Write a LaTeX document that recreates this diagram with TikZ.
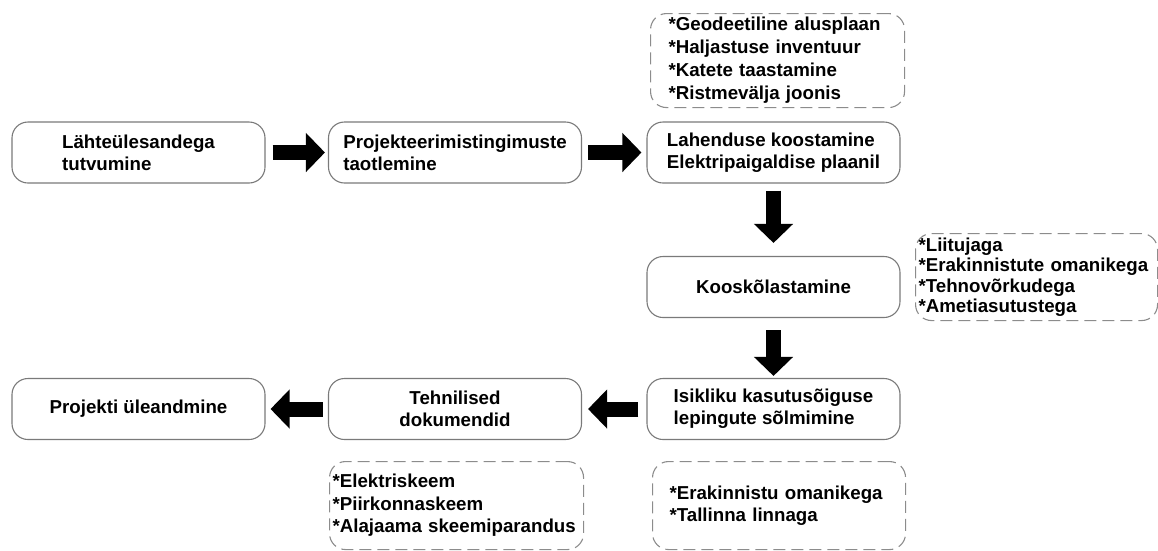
\documentclass[tikz,border=0pt]{standalone}
\usepackage{fontspec}
\setmainfont{Liberation Sans}
\usetikzlibrary{arrows.meta}
\definecolor{boxgray}{HTML}{7A7A7A}
\definecolor{dashgray}{HTML}{8C8C8C}
\begin{document}
\begin{tikzpicture}[x=1pt,y=-1pt,
  txt/.style={font=\bfseries\fontsize{18.7}{22}\selectfont},
  box/.style={txt, draw=boxgray, line width=1.1pt, rounded corners=16pt,
    minimum width=253pt, minimum height=61pt, inner sep=0pt},
  note/.style={txt, draw=dashgray, line width=1.1pt, dash pattern=on 12pt off 6pt,
    rounded corners=16pt, inner ysep=0pt, anchor=north west, align=left},
  barrow/.style={line width=15pt, draw=black, -{Triangle[length=19pt,width=38pt]}}
]
\useasboundingbox (0,0) rectangle (1158,550);

\node[box, align=left] (b1) at (138.5,152.5) {Lähteülesandega\\tutvumine};
\node[box, align=left] (b2) at (455,152.5) {Projekteerimistingimuste\\taotlemine};
\node[box, align=left] (b3) at (773.5,152.5) {Lahenduse koostamine\\Elektripaigaldise plaanil};
\node[box] (b4) at (773.5,287) {Kooskõlastamine};
\node[box, align=left] (b5) at (773.5,409) {Isikliku kasutusõiguse\\lepingute sõlmimine};
\node[box, align=center] (b6) at (455,409) {Tehnilised\\dokumendid};
\node[box] (b7) at (138.5,409) {Projekti üleandmine};

\node[note, text width=218pt, inner xsep=18pt, minimum height=94pt,
  font=\bfseries\fontsize{18.7}{23}\selectfont] (n1) at (650,13)
  {*Geodeetiline alusplaan\\{}*Haljastuse inventuur\\{}*Katete taastamine\\{}*Ristmevälja joonis};
\node[note, text width=236pt, inner xsep=3pt, minimum height=87pt,
  font=\bfseries\fontsize{18.7}{20.5}\selectfont] (n2) at (915,233)
  {*Liitujaga\\{}*Erakinnistute omanikega\\{}*Tehnovõrkudega\\{}*Ametiasutustega};
\node[note, text width=248pt, inner xsep=3pt, minimum height=88pt,
  font=\bfseries\fontsize{18.7}{22.5}\selectfont] (n3) at (329,461)
  {*Elektriskeem\\{}*Piirkonnaskeem\\{}*Alajaama skeemiparandus};
\node[note, text width=219pt, inner xsep=17pt, minimum height=88pt] (n4) at (652,461)
  {*Erakinnistu omanikega\\{}*Tallinna linnaga};

\draw[barrow, shorten <=7pt, shorten >=3pt] (b1) -- (b2);
\draw[barrow, shorten <=6pt, shorten >=5pt] (b2) -- (b3);
\draw[barrow, shorten <=7pt, shorten >=13pt] (b3) -- (b4);
\draw[barrow, shorten <=12pt, shorten >=2pt] (b4) -- (b5);
\draw[barrow, shorten <=8pt, shorten >=6pt] (b5) -- (b6);
\draw[barrow, shorten <=5pt, shorten >=5pt] (b6) -- (b7);
\end{tikzpicture}
\end{document}
